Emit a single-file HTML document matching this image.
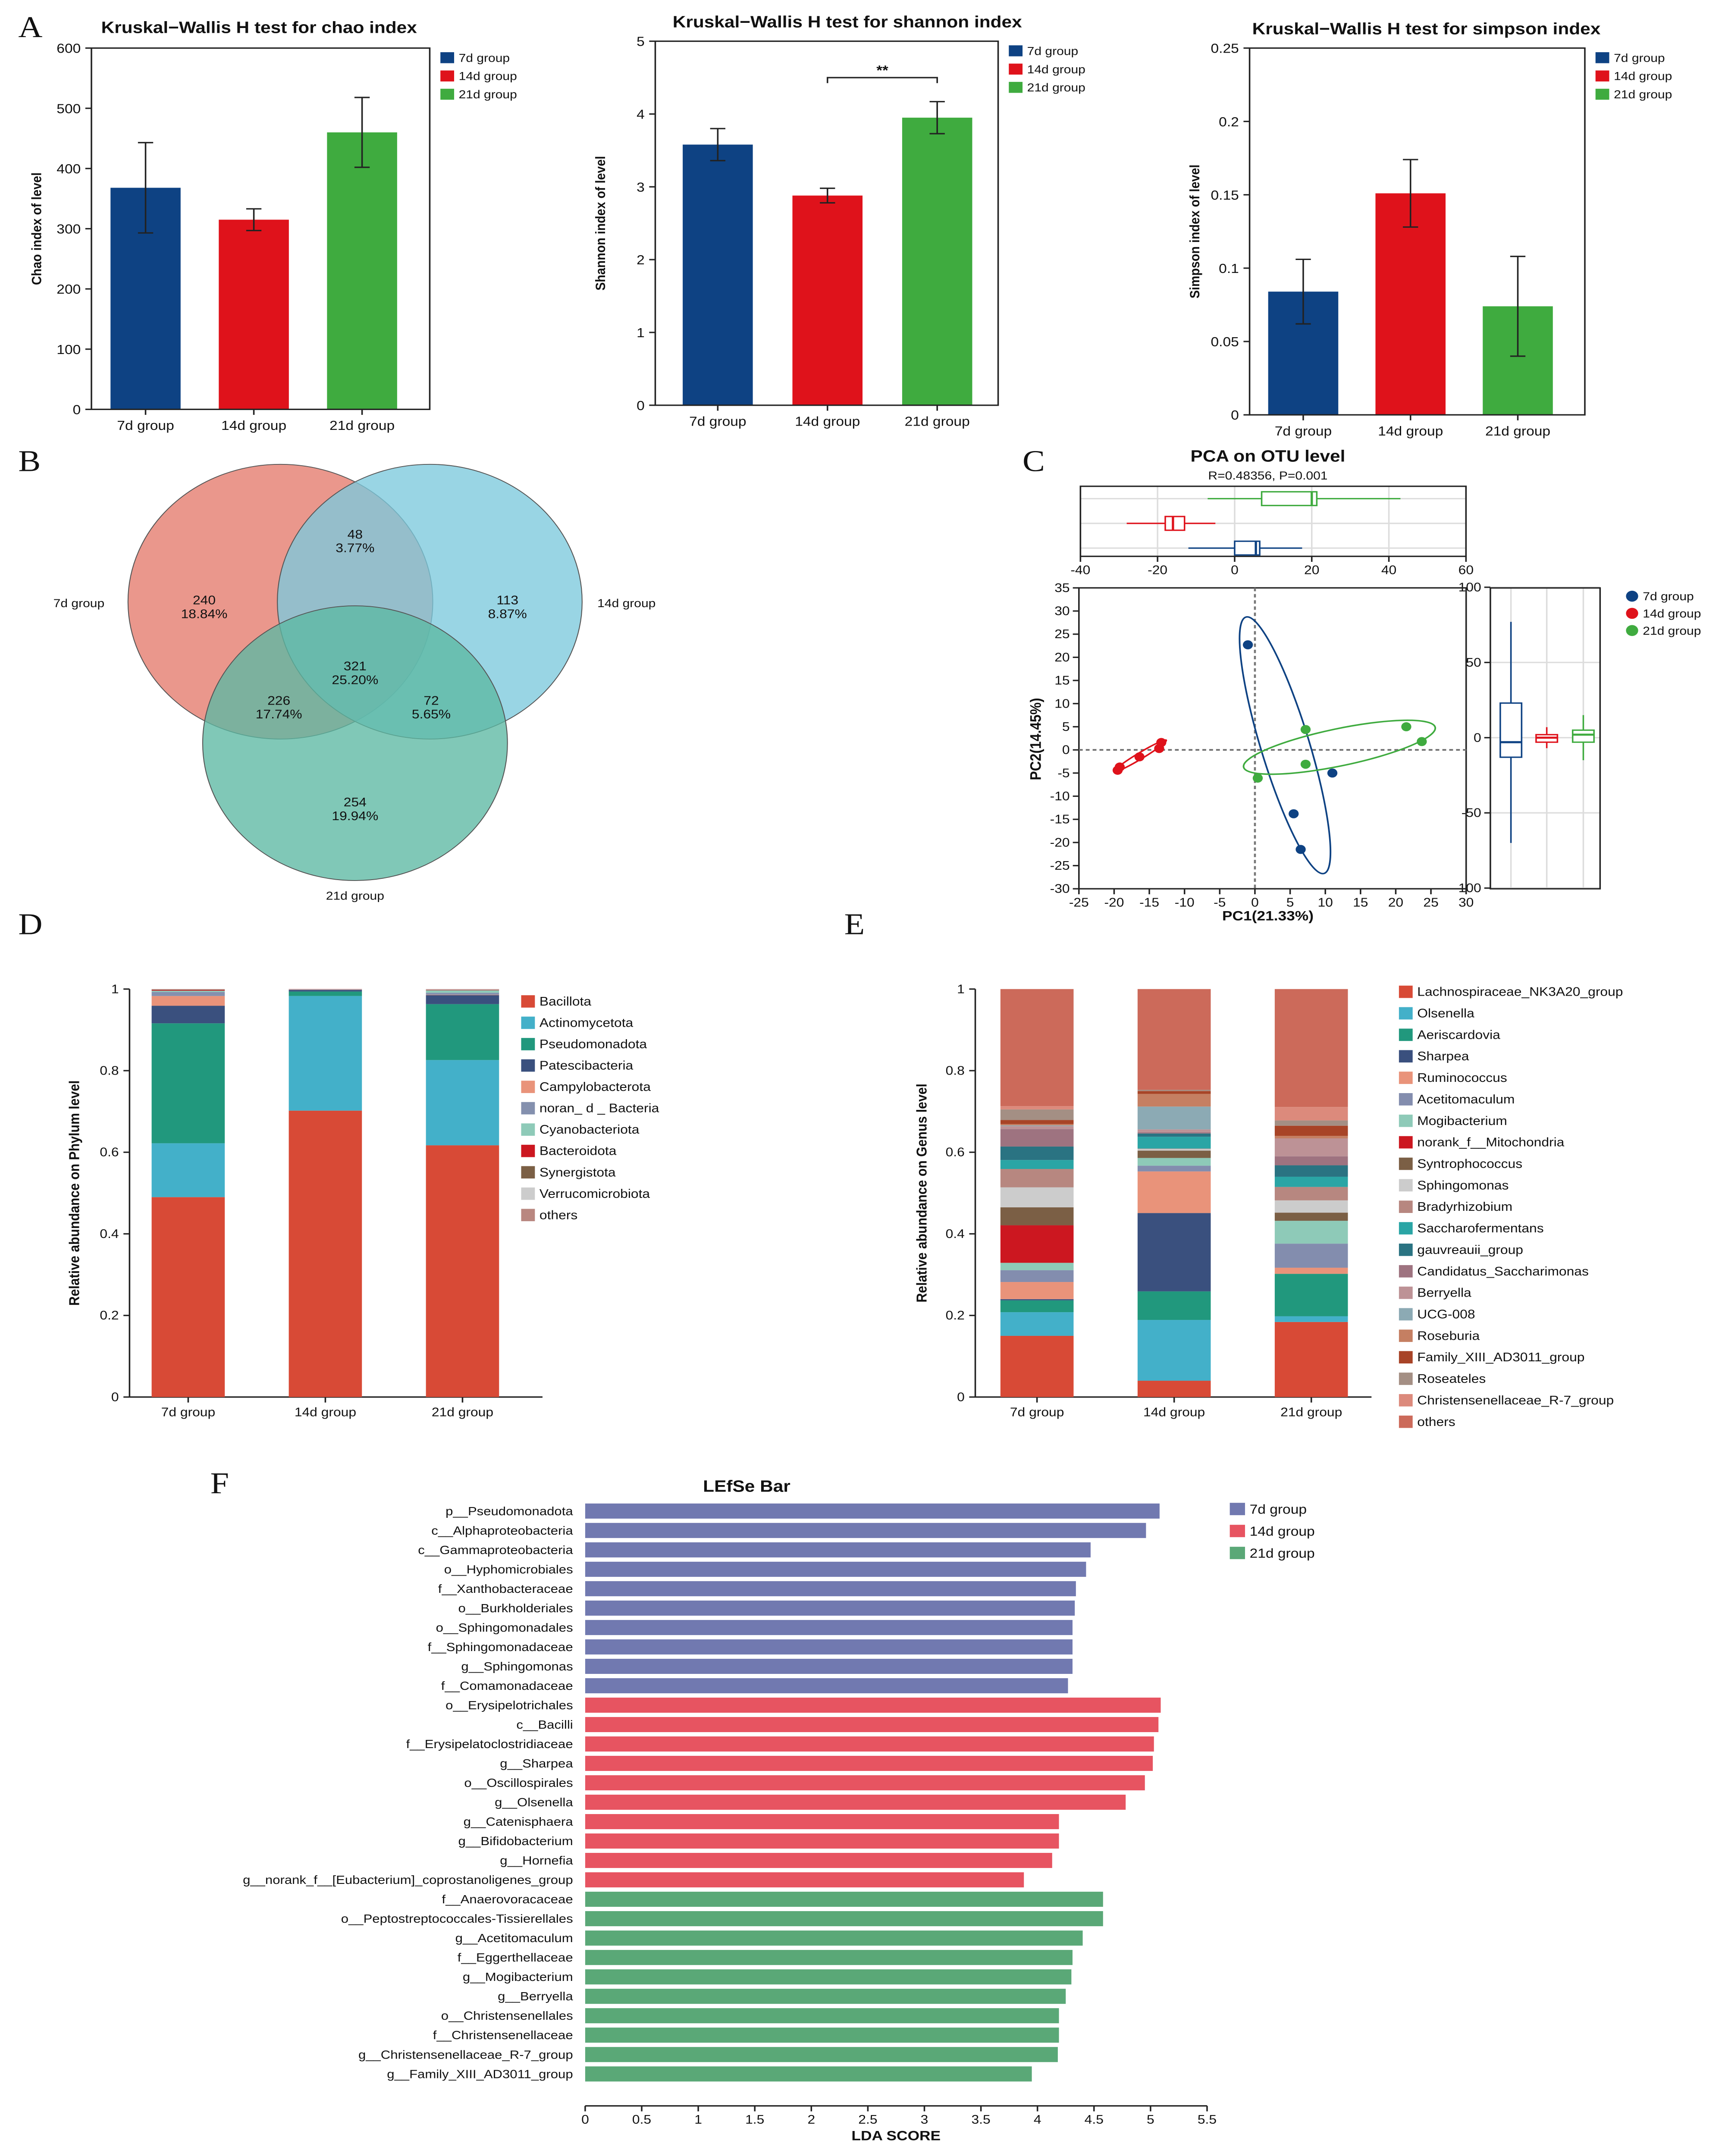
<!DOCTYPE html>
<html><head><meta charset="utf-8"><style>
html,body{margin:0;padding:0;background:#fff;width:100vw;height:100vh;overflow:hidden}
svg{display:block;position:absolute;left:0;top:0;width:100vw;height:100vh}
text{font-family:"Liberation Sans",Arial,sans-serif;fill:#111}
.L{font-family:"Liberation Serif",serif;font-size:22px}
</style></head><body>
<svg id="fig" xmlns="http://www.w3.org/2000/svg" viewBox="0 0 1130 1569.5" preserveAspectRatio="none">
<rect x="0" y="0" width="1130" height="1570" fill="#fff"/>
<text class="L" x="12" y="27">A</text>
<text class="L" x="12" y="343">B</text>
<text class="L" x="671" y="343">C</text>
<text class="L" x="12" y="680">D</text>
<text class="L" x="554" y="680">E</text>
<text class="L" x="138" y="1087">F</text>
<g id="gA"></g><g id="gB"></g><g id="gC"></g><g id="gD"></g><g id="gE"></g><g id="gF"></g>
</svg>
<script>
const groups=['7d group','14d group','21d group'];
const groupColors=['#0e4283','#df121b','#3fab3f'];
const chaoMeans=[368,315,460];
const chaoErr=[75,18,58];
const shannonMeans=[3.58,2.88,3.95];
const shannonErr=[0.22,0.1,0.22];
const simpsonMeans=[0.084,0.151,0.074];
const simpsonErr=[0.022,0.023,0.034];
const chaoTicks=['0','100','200','300','400','500','600'];
const shannonTicks=['0','1','2','3','4','5'];
const simpsonTicks=['0','0.05','0.1','0.15','0.2','0.25'];

const vennLabels=[['48','3.77%'],['240','18.84%'],['113','8.87%'],['321','25.20%'],['226','17.74%'],['72','5.65%'],['254','19.94%']];

const pcaBlueX=[-1,11,5.5,6.5];
const pcaBlueY=[22.7,-5,-13.8,-21.5];
const pcaGreenX=[7.2,21.5,23.7,7.2,0.4];
const pcaGreenY=[4.4,5,1.8,-3.1,-6.1];
const pcaRedX=[-13.3,-13.6,-16.4,-19.2,-19.5];
const pcaRedY=[1.6,0.3,-1.5,-3.7,-4.4];
const pc1Ticks=[-25,-20,-15,-10,-5,0,5,10,15,20,25,30];
const pc2Ticks=[35,30,25,20,15,10,5,0,-5,-10,-15,-20,-25,-30];
const topBoxTicks=[-40,-20,0,20,40,60];
const rightBoxTicks=[100,50,0,-50,-100];
// boxplot stats: [whiskerLow,q1,median,q3,whiskerHigh]
const pc1Box=[[-12,0,5.5,6.5,17.5],[-28,-18,-16,-13,-5],[-7,7,20,21.3,43]];
const pc2Box=[[-70,-13,-3,23,77],[-7,-3,0,2,7],[-15,-3,2,5,15]];

const phylumNames=['Bacillota','Actinomycetota','Pseudomonadota','Patescibacteria','Campylobacterota','noran_ d _ Bacteria','Cyanobacteriota','Bacteroidota','Synergistota','Verrucomicrobiota','others'];
const phylumColors=['#d84a36','#43b0c9','#21987d','#3a507e','#e9937a','#8490ae','#8ecab8','#cc1720','#7b5f45','#cccccc','#b98780'];
const phylum7d=[0.49,0.132,0.294,0.043,0.024,0.01,0.003,0.002,0.001,0.0005,0.0005];
const phylum14d=[0.702,0.281,0.011,0.004,0.0005,0.0005,0.0005,0.0005,0.0,0.0,0.0];
const phylum21d=[0.617,0.209,0.137,0.022,0.001,0.005,0.006,0.001,0.0005,0.001,0.0005];

const genusNames=['Lachnospiraceae_NK3A20_group','Olsenella','Aeriscardovia','Sharpea','Ruminococcus','Acetitomaculum','Mogibacterium','norank_f__Mitochondria','Syntrophococcus','Sphingomonas','Bradyrhizobium','Saccharofermentans','gauvreauii_group','Candidatus_Saccharimonas','Berryella','UCG-008','Roseburia','Family_XIII_AD3011_group','Roseateles','Christensenellaceae_R-7_group','others'];
const genusColors=['#d84a36','#43b0c9','#21987d','#3a507e','#e9937a','#838dae','#8ecab8','#cc1720','#7b5f45','#cccccc','#b78780','#2aa5a5','#2a7382','#9e7380','#bd9296','#8caab4','#c57f62','#a84427','#a48f84','#dc8a7c','#cc6a5a'];
const genus7d=[0.150,0.058,0.029,0.003,0.042,0.029,0.018,0.092,0.044,0.049,0.045,0.022,0.033,0.043,0.007,0.002,0.003,0.010,0.026,0.008,0.287];
const genus14d=[0.040,0.149,0.070,0.192,0.102,0.014,0.019,0.0,0.018,0.004,0.001,0.029,0.008,0.003,0.007,0.056,0.031,0.007,0.003,0.0,0.247];
const genus21d=[0.184,0.014,0.104,0.0,0.015,0.059,0.056,0.0,0.020,0.030,0.033,0.025,0.028,0.022,0.044,0.0,0.006,0.025,0.013,0.033,0.289];

const lefseLabels=['p__Pseudomonadota','c__Alphaproteobacteria','c__Gammaproteobacteria','o__Hyphomicrobiales','f__Xanthobacteraceae','o__Burkholderiales','o__Sphingomonadales','f__Sphingomonadaceae','g__Sphingomonas','f__Comamonadaceae','o__Erysipelotrichales','c__Bacilli','f__Erysipelatoclostridiaceae','g__Sharpea','o__Oscillospirales','g__Olsenella','g__Catenisphaera','g__Bifidobacterium','g__Hornefia','g__norank_f__[Eubacterium]_coprostanoligenes_group','f__Anaerovoracaceae','o__Peptostreptococcales-Tissierellales','g__Acetitomaculum','f__Eggerthellaceae','g__Mogibacterium','g__Berryella','o__Christensenellales','f__Christensenellaceae','g__Christensenellaceae_R-7_group','g__Family_XIII_AD3011_group'];
const lefseValues=[5.08,4.96,4.47,4.43,4.34,4.33,4.31,4.31,4.31,4.27,5.09,5.07,5.03,5.02,4.95,4.78,4.19,4.19,4.13,3.88,4.58,4.58,4.40,4.31,4.30,4.25,4.19,4.19,4.18,3.95];
const lefseGroup=[0,0,0,0,0,0,0,0,0,0,1,1,1,1,1,1,1,1,1,1,2,2,2,2,2,2,2,2,2,2];
const lefseColors=['#7179b0','#e75461','#5aa877'];
const ldaTicks=['0','0.5','1','1.5','2','2.5','3','3.5','4','4.5','5','5.5'];

const NS='http://www.w3.org/2000/svg';
function el(tag,parent,attrs){const e=document.createElementNS(NS,tag);for(const k in attrs)e.setAttribute(k,attrs[k]);parent.appendChild(e);return e;}
function txt(parent,x,y,s,size,anchor,extra){const t=el('text',parent,Object.assign({x:x,y:y,'font-size':size,'text-anchor':anchor||'start'},extra||{}));t.textContent=s;return t;}

// ---------- Panel A ----------
const gA=document.getElementById('gA');
function alphaChart(cfg){
  const g=el('g',gA,{});
  
  
  const W=cfg.x1-cfg.x0,H=cfg.yb-cfg.yt;
  const sy=v=>cfg.yb-v/cfg.max*H;
  const sx=i=>cfg.x0+(i*0.32+0.16)*W+cfg.shift;
  const bw=46;
  cfg.means.forEach((m,i)=>{
    const r=el('rect',g,{x:sx(i)-bw/2,y:sy(m),width:bw,height:cfg.yb-sy(m),fill:groupColors[i]});
    
    
    const e=cfg.errs[i];
    const eb=el('path',g,{d:`M${sx(i)},${sy(m-e)}V${sy(m+e)}M${sx(i)-5},${sy(m-e)}h10M${sx(i)-5},${sy(m+e)}h10`,stroke:'#222','stroke-width':1,fill:'none'});
    
    
    el('line',g,{x1:sx(i),y1:cfg.yb,x2:sx(i),y2:cfg.yb+4,stroke:'#222'});
    txt(g,sx(i),cfg.yb+15,groups[i],9.5,'middle');
  });
  const box=el('rect',g,{x:cfg.x0,y:cfg.yt,width:W,height:H,fill:'none',stroke:'#222','stroke-width':1});
  
  
  cfg.ticks.forEach((t,k)=>{
    const v=k*cfg.max/(cfg.ticks.length-1);
    el('line',g,{x1:cfg.x0-4,y1:sy(v),x2:cfg.x0,y2:sy(v),stroke:'#222'});
    txt(g,cfg.x0-7,sy(v)+3.5,t,9.5,'end');
  });
  const tt=txt(g,cfg.tx,cfg.ty,cfg.title,12,'middle',{'font-weight':'bold'});
  
  
  const yl=txt(g,0,0,cfg.ylab,9,'middle',{'font-weight':'bold',transform:`translate(${cfg.x0-33},${(cfg.yt+cfg.yb)/2}) rotate(-90)`});
  
  
  groups.forEach((gn,i)=>{
    const lg=el('g',g,{});
    
    
    el('rect',lg,{x:cfg.x1+7,y:cfg.ly+i*13.3-7,width:9,height:8,fill:groupColors[i]});
    txt(lg,cfg.x1+19,cfg.ly+i*13.3,gn,8.5);
  });
  return {sx:sx,sy:sy,g:g};
}
alphaChart({name:'chao-chart',x0:60,x1:282,yt:35,yb:298,max:600,ticks:chaoTicks,means:chaoMeans,errs:chaoErr,shift:0,title:'Kruskal\u2212Wallis H test for chao index',tx:170,ty:24,ylab:'Chao index of level',ly:45});
const sh=alphaChart({name:'shannon-chart',x0:430,x1:655,yt:30,yb:295,max:5,ticks:shannonTicks,means:shannonMeans,errs:shannonErr,shift:5,title:'Kruskal\u2212Wallis H test for shannon index',tx:556,ty:20,ylab:'Shannon index of level',ly:40});
{const b=el('path',sh.g,{d:`M${sh.sx(1)},${sh.sy(4.5)+4}V${sh.sy(4.5)}H${sh.sx(2)}V${sh.sy(4.5)+4}`,stroke:'#222',fill:'none'});
 
 
 txt(sh.g,(sh.sx(1)+sh.sx(2))/2,sh.sy(4.5)-2,'**',10,'middle',{'font-weight':'bold'});}
alphaChart({name:'simpson-chart',x0:820,x1:1040,yt:35,yb:302,max:0.25,ticks:simpsonTicks,means:simpsonMeans,errs:simpsonErr,shift:0,title:'Kruskal\u2212Wallis H test for simpson index',tx:936,ty:25,ylab:'Simpson index of level',ly:45});

// ---------- Panel B Venn ----------
const gB=document.getElementById('gB');
[[184,438,'#e47a6c','7d'],[282,438,'#7cc9dc','14d'],[233,541,'#5cb8a3','21d']].forEach(c=>{
  const ci=el('circle',gB,{cx:c[0],cy:c[1],r:100,fill:c[2],'fill-opacity':0.78,stroke:'#555','stroke-width':0.6});
  
  
});
const vennPos=[[233,392],[134,440],[333,440],[233,488],[183,513],[283,513],[233,587]];
vennLabels.forEach((l,i)=>{
  const t1=txt(gB,vennPos[i][0],vennPos[i][1],l[0],9,'middle');
  
  
  txt(gB,vennPos[i][0],vennPos[i][1]+10,l[1],9,'middle');
});
txt(gB,35,442,'7d group',8.5,'start');
txt(gB,392,442,'14d group',8.5,'start');
txt(gB,233,655,'21d group',8.5,'middle');

// ---------- Panel C PCA ----------
const gC=document.getElementById('gC');
const px=v=>823.5+v*4.62, py=v=>545.9-v*3.37;
const bx=v=>709+(v+40)*2.53, ry=v=>537-v*1.095;
txt(gC,832,336,'PCA on OTU level',12,'middle',{'font-weight':'bold'});
txt(gC,832,349,'R=0.48356, P=0.001',8.5,'middle');
const tb=el('g',gC,{});


topBoxTicks.forEach(t=>{el('line',tb,{x1:bx(t),y1:354,x2:bx(t),y2:405,stroke:'#ddd'});
  el('line',tb,{x1:bx(t),y1:405,x2:bx(t),y2:409,stroke:'#222'});txt(tb,bx(t),418,String(t),9,'middle');});
const topRows=[399,381,363];
topRows.forEach(y=>el('line',tb,{x1:709,y1:y,x2:962,y2:y,stroke:'#ddd'}));
el('rect',tb,{x:709,y:354,width:253,height:51,fill:'none',stroke:'#222'});
pc1Box.forEach((b,i)=>{const y=topRows[i],c=groupColors[i];
  const bxg=el('g',tb,{});
  
  
  el('path',bxg,{d:`M${bx(b[0])},${y}H${bx(b[1])}M${bx(b[3])},${y}H${bx(b[4])}`,stroke:c,fill:'none'});
  el('rect',bxg,{x:bx(b[1]),y:y-5,width:bx(b[3])-bx(b[1]),height:10,fill:'#fff',stroke:c});
  el('line',bxg,{x1:bx(b[2]),y1:y-5,x2:bx(b[2]),y2:y+5,stroke:c,'stroke-width':1.5});});
const rb=el('g',gC,{});


const rCols=[991.5,1015,1039];
rCols.forEach(x=>el('line',rb,{x1:x,y1:428,x2:x,y2:647,stroke:'#ddd'}));
rightBoxTicks.forEach(t=>{el('line',rb,{x1:978,y1:ry(t),x2:1050,y2:ry(t),stroke:'#ddd'});
  el('line',rb,{x1:974,y1:ry(t),x2:978,y2:ry(t),stroke:'#222'});txt(rb,972,ry(t)+3,String(t),9,'end');});
el('rect',rb,{x:978,y:428,width:72,height:219,fill:'none',stroke:'#222'});
pc2Box.forEach((b,i)=>{const x=rCols[i],c=groupColors[i];
  const bxg=el('g',rb,{});
  
  
  el('path',bxg,{d:`M${x},${ry(b[0])}V${ry(b[1])}M${x},${ry(b[3])}V${ry(b[4])}`,stroke:c,fill:'none'});
  el('rect',bxg,{x:x-7,y:ry(b[3]),width:14,height:ry(b[1])-ry(b[3]),fill:'#fff',stroke:c});
  el('line',bxg,{x1:x-7,y1:ry(b[2]),x2:x+7,y2:ry(b[2]),stroke:c,'stroke-width':1.5});});
const sc=el('g',gC,{});


el('rect',sc,{x:px(-25),y:py(35),width:px(30)-px(-25),height:py(-30)-py(35),fill:'none',stroke:'#222'});
el('line',sc,{x1:px(0),y1:py(35),x2:px(0),y2:py(-30),stroke:'#777','stroke-dasharray':'2.5,2','stroke-width':1.3});
el('line',sc,{x1:px(-25),y1:py(0),x2:px(30),y2:py(0),stroke:'#777','stroke-dasharray':'2.5,2','stroke-width':1.3});
pc1Ticks.forEach(t=>{el('line',sc,{x1:px(t),y1:py(-30),x2:px(t),y2:py(-30)+4,stroke:'#222'});txt(sc,px(t),py(-30)+13,String(t),9,'middle');});
pc2Ticks.forEach(t=>{el('line',sc,{x1:px(-25)-4,y1:py(t),x2:px(-25),y2:py(t),stroke:'#222'});txt(sc,px(-25)-6,py(t)+3,String(t),9,'end');});
function ellipse(a,b,minor,color,name){
  const x1=px(a[0]),y1=py(a[1]),x2=px(b[0]),y2=py(b[1]);
  const cx=(x1+x2)/2,cy=(y1+y2)/2,rx=Math.hypot(x2-x1,y2-y1)/2,ang=Math.atan2(y2-y1,x2-x1)*180/Math.PI;
  const e=el('ellipse',sc,{cx:cx,cy:cy,rx:rx,ry:minor,transform:`rotate(${ang} ${cx} ${cy})`,fill:'none',stroke:color,'stroke-width':1.1});
  
  
}
ellipse([-1.25,28.7],[9.8,-26.7],16,groupColors[0],'ellipse-7d');
ellipse([-1.6,-3.75],[25.6,4.9],13.5,groupColors[2],'ellipse-21d');
ellipse([-20,-4.7],[-12.6,2.1],2.2,groupColors[1],'ellipse-14d');
[[pcaBlueX,pcaBlueY,0],[pcaGreenX,pcaGreenY,2],[pcaRedX,pcaRedY,1]].forEach(s=>{
  s[0].forEach((x,i)=>{const p=el('circle',sc,{cx:px(x),cy:py(s[1][i]),r:3.3,fill:groupColors[s[2]]});
    
    });
});
const x1t=txt(gC,832,670,'PC1(21.33%)',10,'middle',{'font-weight':'bold'});


const y1t=txt(gC,0,0,'PC2(14.45%)',10,'middle',{'font-weight':'bold',transform:'translate(683,538) rotate(-90)'});


groups.forEach((gn,i)=>{const lg=el('g',gC,{});
  
  
  el('circle',lg,{cx:1071,cy:434+i*12.5,r:4,fill:groupColors[i]});
  txt(lg,1078,437+i*12.5,gn,8.5);});

// ---------- Stacked bars D & E ----------
function stacked(parent,name,cfg,sets,names,colors){
  const g=el('g',parent,{});
  
  
  const sy=v=>cfg.yb-v*(cfg.yb-cfg.yt);
  el('line',g,{x1:cfg.x0,y1:cfg.yt,x2:cfg.x0,y2:cfg.yb,stroke:'#222'});
  el('line',g,{x1:cfg.x0,y1:cfg.yb,x2:cfg.x1,y2:cfg.yb,stroke:'#222'});
  ['0','0.2','0.4','0.6','0.8','1'].forEach((t,k)=>{const v=k*0.2;
    el('line',g,{x1:cfg.x0-4,y1:sy(v),x2:cfg.x0,y2:sy(v),stroke:'#222'});txt(g,cfg.x0-7,sy(v)+3,t,9,'end');});
  sets.forEach((vals,i)=>{const cx=cfg.c0+i*cfg.step;let acc=0;
    vals.forEach((v,k)=>{if(v<=0)return;const r=el('rect',g,{x:cx-cfg.bw/2,y:sy(acc+v),width:cfg.bw,height:sy(acc)-sy(acc+v),fill:colors[k]});
      
      
      acc+=v;});
    el('line',g,{x1:cx,y1:cfg.yb,x2:cx,y2:cfg.yb+4,stroke:'#222'});
    txt(g,cx,cfg.yb+14,groups[i],9,'middle');});
  const yl=txt(g,0,0,cfg.ylab,9.5,'middle',{'font-weight':'bold',transform:`translate(${cfg.ylx},${(cfg.yt+cfg.yb)/2}) rotate(-90)`});
  
  
  names.forEach((n,k)=>{const lg=el('g',g,{});
    
    
    const y=cfg.ly+k*cfg.lstep;
    el('rect',lg,{x:cfg.lx,y:y-4.5,width:9,height:9,fill:colors[k]});
    txt(lg,cfg.lx+12,y+3,n,9);});
}
stacked(document.getElementById('gD'),'phylum-chart',{x0:85,x1:356,yt:720,yb:1017,c0:123.5,step:90,bw:48,ylab:'Relative abundance on Phylum level',ylx:52,lx:342,ly:729,lstep:15.55},[phylum7d,phylum14d,phylum21d],phylumNames,phylumColors);
stacked(document.getElementById('gE'),'genus-chart',{x0:640,x1:900,yt:720,yb:1017,c0:680.5,step:90,bw:48,ylab:'Relative abundance on Genus level',ylx:608,lx:918,ly:722,lstep:15.65},[genus7d,genus14d,genus21d],genusNames,genusColors);

// ---------- Panel F LEfSe ----------
const gF=document.getElementById('gF');
const lx=v=>384+v*74.2, ly=i=>1100+i*14.13;
const ft=txt(gF,490,1086,'LEfSe Bar',12,'middle',{'font-weight':'bold'});


lefseValues.forEach((v,i)=>{
  const r=el('rect',gF,{x:lx(0),y:ly(i)-5.5,width:lx(v)-lx(0),height:11,fill:lefseColors[lefseGroup[i]]});
  
  
  txt(gF,376,ly(i)+3,lefseLabels[i],8.8,'end');
});
el('line',gF,{x1:lx(0),y1:1533,x2:lx(5.5),y2:1533,stroke:'#222'});
ldaTicks.forEach((t,k)=>{const v=k*0.5;el('line',gF,{x1:lx(v),y1:1533,x2:lx(v),y2:1537,stroke:'#222'});txt(gF,lx(v),1546,t,9,'middle');});
const lt=txt(gF,588,1558,'LDA SCORE',10,'middle',{'font-weight':'bold'});


groups.forEach((gn,i)=>{const lg=el('g',gF,{});
  
  
  el('rect',lg,{x:807,y:1094+i*16,width:10,height:9,fill:lefseColors[i]});
  txt(lg,820,1102+i*16,gn,9.5);});
</script>
</body></html>
